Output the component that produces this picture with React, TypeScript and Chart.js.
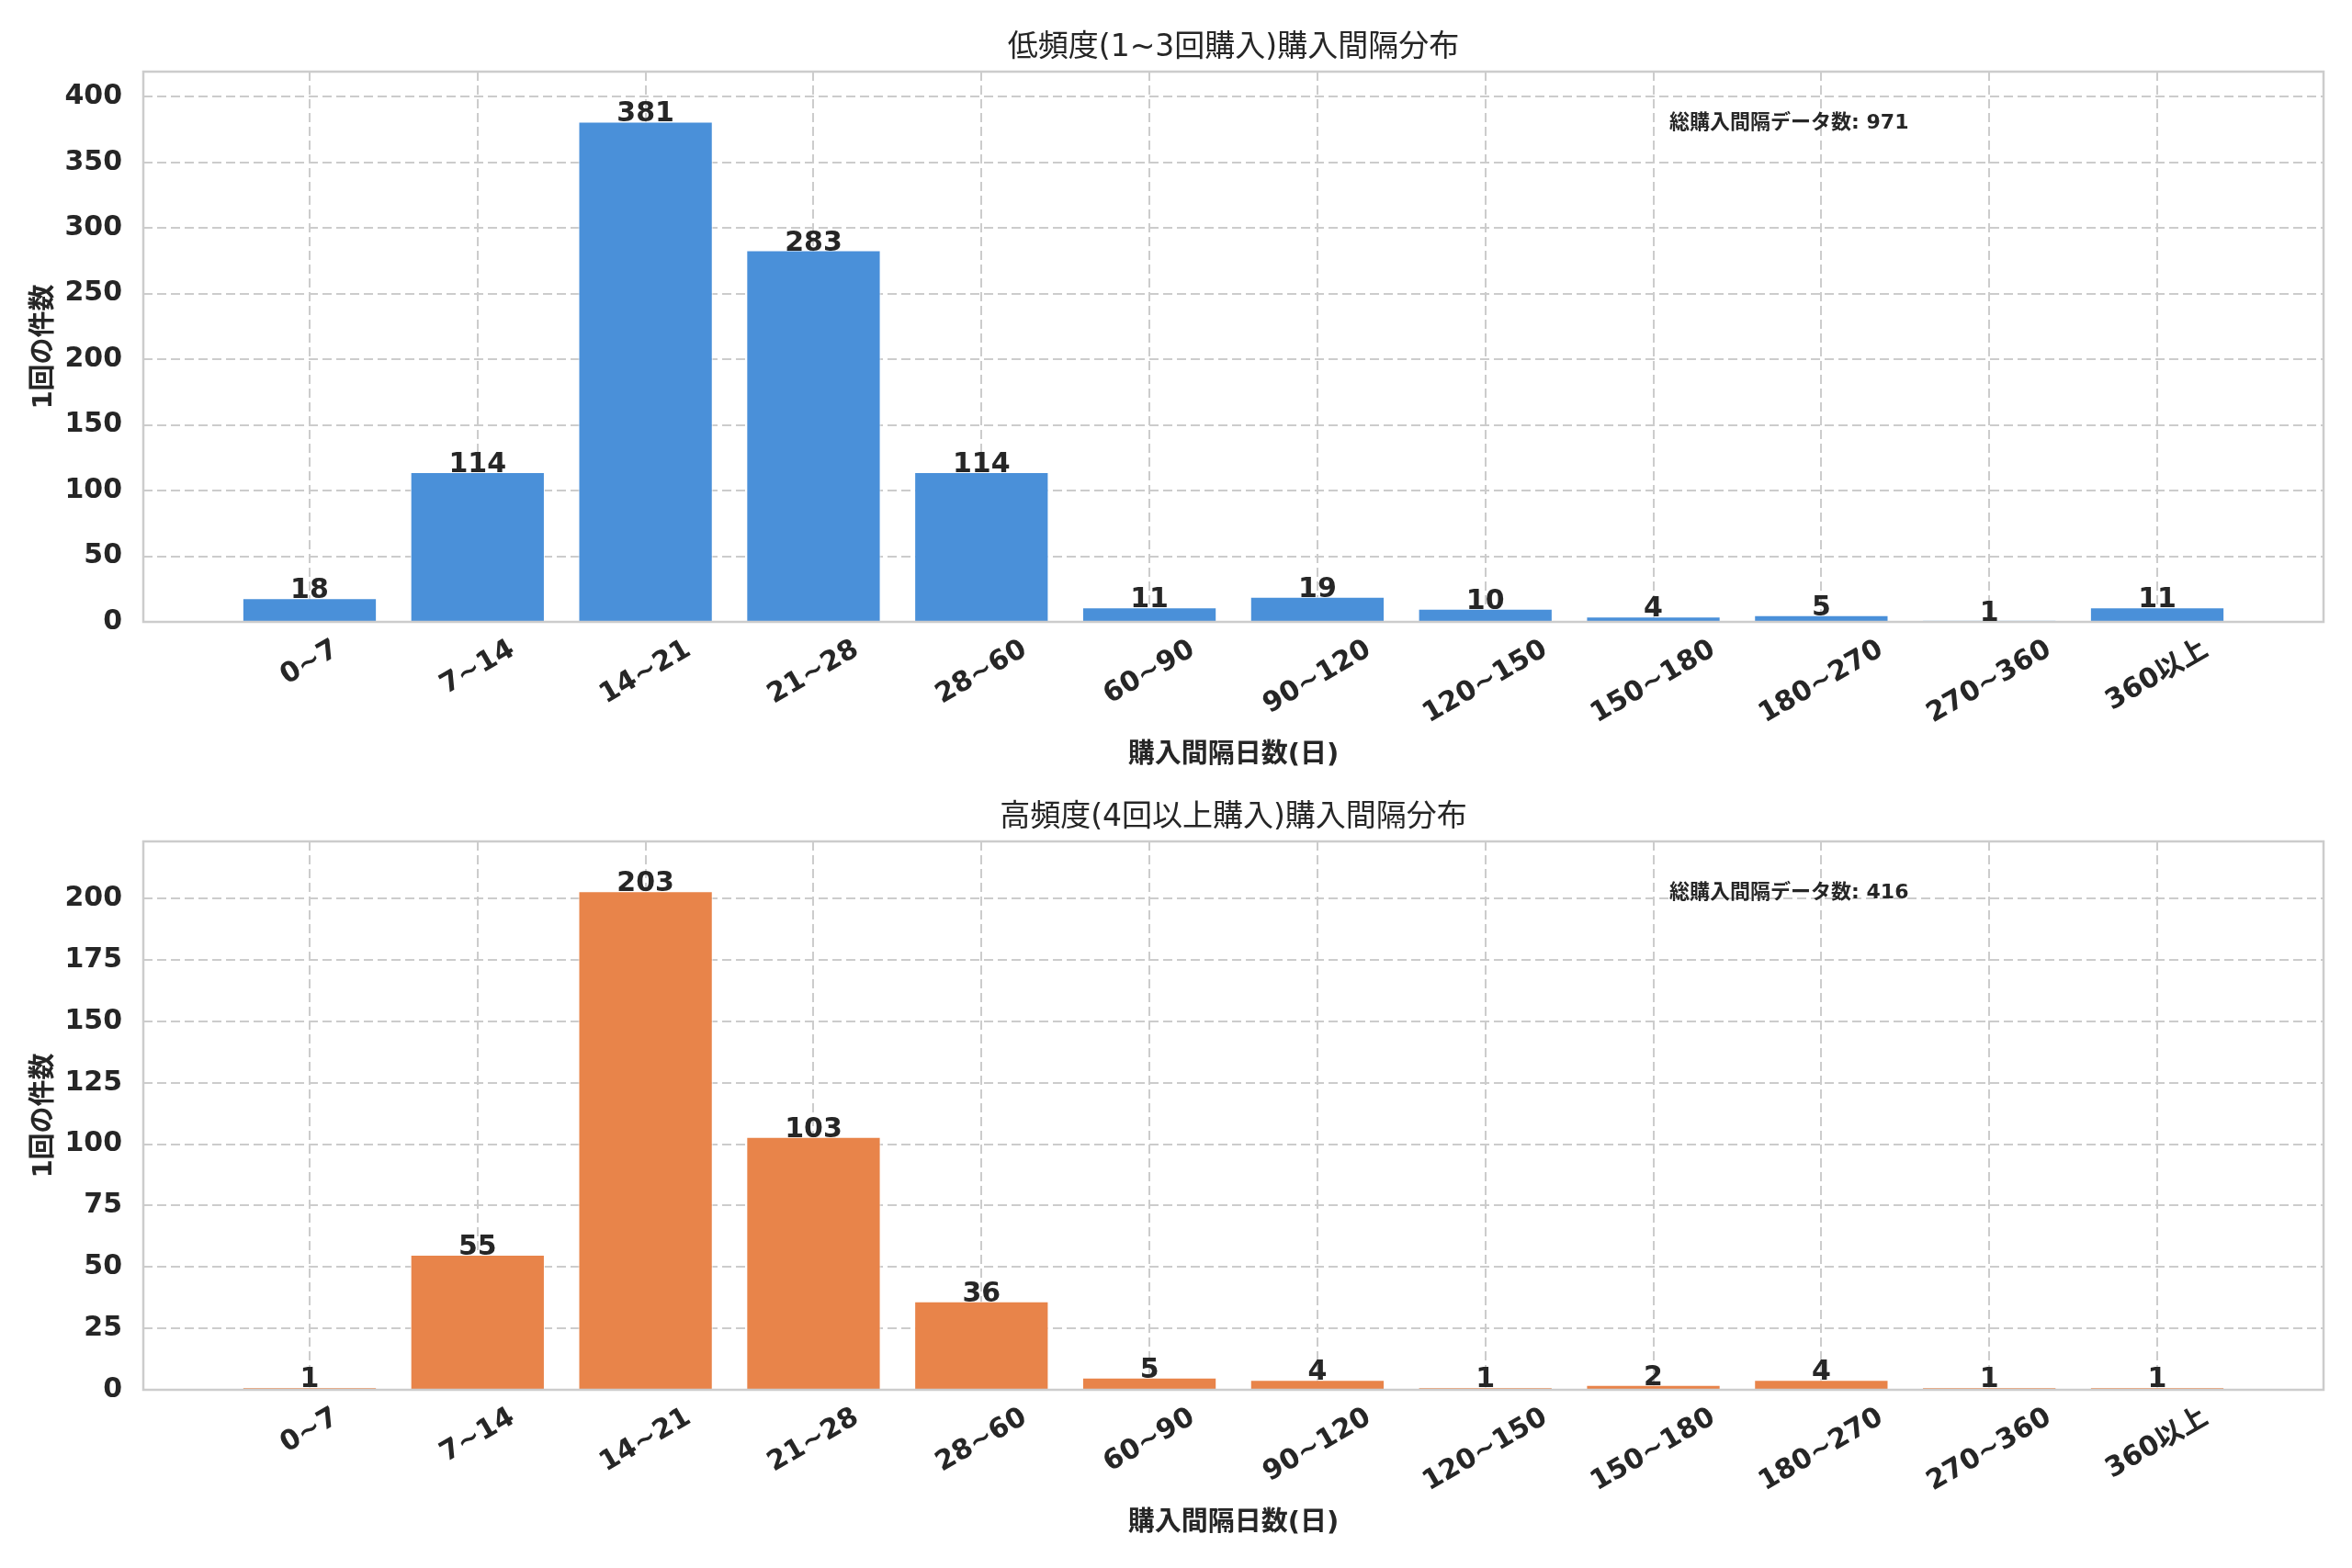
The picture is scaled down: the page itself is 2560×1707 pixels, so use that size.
import React, { useEffect, useRef } from 'react';
import { Chart, registerables } from 'chart.js';

Chart.register(...registerables);

// 購入間隔のビン
const intervalLabels = ['0~7', '7~14', '14~21', '21~28', '28~60', '60~90', '90~120', '120~150', '150~180', '180~270', '270~360', '360以上'];
// 低頻度(1~3回購入)
const lowFreqCounts = [18, 114, 381, 283, 114, 11, 19, 10, 4, 5, 1, 11];
// 高頻度(4回以上購入)
const highFreqCounts = [1, 55, 203, 103, 36, 5, 4, 1, 2, 4, 1, 1];
const lowFreqTicks = [0, 50, 100, 150, 200, 250, 300, 350, 400];
const highFreqTicks = [0, 25, 50, 75, 100, 125, 150, 175, 200];

const FONT = '"DejaVu Sans", "Noto Sans CJK JP", sans-serif';
const TEXT = '#262626';
const GRID = '#cccccc';

type PanelProps = {
  title: string;
  counts: number[];
  yTicks: number[];
  color: string;
  totalLabel: string;
  top: number;
  height: number;
  areaTop: number;
  areaBottom: number;
};

const makeTextPlugin = (p: PanelProps) => ({
  id: 'panelText',
  afterDatasetsDraw(chart: any) {
    const { ctx, chartArea: a } = chart;
    ctx.save();
    ctx.strokeStyle = GRID;
    ctx.lineWidth = 2.5;
    ctx.strokeRect(a.left, a.top, a.right - a.left, a.bottom - a.top);
    const meta = chart.getDatasetMeta(0);
    ctx.font = `bold 30px ${FONT}`;
    ctx.fillStyle = TEXT;
    ctx.textAlign = 'center';
    ctx.textBaseline = 'alphabetic';
    meta.data.forEach((bar: any, i: number) => {
      ctx.fillText(String(p.counts[i]), bar.x, bar.y);
    });
    ctx.restore();
  },
  afterDraw(chart: any) {
    const { ctx, chartArea: a } = chart;
    const cx = (a.left + a.right) / 2;
    const h = a.bottom - a.top;
    ctx.save();
    ctx.fillStyle = TEXT;

    // title
    ctx.font = `33px ${FONT}`;
    ctx.textAlign = 'center';
    ctx.textBaseline = 'alphabetic';
    ctx.fillText(p.title, cx, a.top - 17);

    // total annotation
    ctx.font = `bold 22px ${FONT}`;
    ctx.textAlign = 'left';
    ctx.fillText(p.totalLabel, a.left + 0.7 * (a.right - a.left), a.top + 0.05 * h + 32);

    // x tick labels, rotated 30deg, centred on tick
    const rot = (30 * Math.PI) / 180;
    ctx.font = `bold 30px ${FONT}`;
    ctx.textAlign = 'center';
    ctx.textBaseline = 'middle';
    const lh = 35;
    intervalLabels.forEach((lab, i) => {
      const w = ctx.measureText(lab).width;
      const H = w * Math.sin(rot) + lh * Math.cos(rot);
      const x = chart.scales.x.getPixelForValue(i);
      const y = a.bottom + 13 + H / 2;
      ctx.save();
      ctx.translate(x, y);
      ctx.rotate(-rot);
      ctx.fillText(lab, 0, 0);
      ctx.restore();
    });

    // axis labels
    ctx.font = `bold 29px ${FONT}`;
    ctx.textAlign = 'center';
    ctx.textBaseline = 'middle';
    ctx.fillText('購入間隔日数(日)', cx, a.bottom + 145);
    ctx.save();
    ctx.translate(48, (a.top + a.bottom) / 2);
    ctx.rotate(-Math.PI / 2);
    ctx.fillText('1回の件数', 0, 0);
    ctx.restore();

    ctx.restore();
  },
});

const Panel: React.FC<PanelProps> = (props) => {
  const canvasRef = useRef<HTMLCanvasElement | null>(null);

  useEffect(() => {
    if (!canvasRef.current) return;
    const ymax = Math.max(...props.counts) * 1.1;
    const chart = new Chart(canvasRef.current, {
      type: 'bar',
      data: {
        datasets: [
          {
            data: props.counts.map((v, i) => ({ x: i, y: v })),
            backgroundColor: props.color,
            borderColor: '#ffffff',
            borderWidth: 1,
            barPercentage: 0.8,
            categoryPercentage: 1.0,
          },
        ],
      },
      options: {
        animation: false,
        responsive: true,
        maintainAspectRatio: false,
        devicePixelRatio: 1,
        layout: {
          padding: {
            left: 0,
            right: 31,
            top: props.areaTop,
            bottom: props.height - props.areaBottom,
          },
        },
        plugins: {
          legend: { display: false },
          title: { display: false },
          tooltip: { enabled: false },
        },
        scales: {
          x: {
            type: 'linear',
            min: -0.99,
            max: intervalLabels.length - 1 + 0.99,
            offset: false,
            ticks: { display: false },
            grid: { color: GRID, lineWidth: 2, drawTicks: false, offset: false },
            border: { display: false, dash: [10, 5] },
            afterBuildTicks: (axis: any) => {
              axis.ticks = intervalLabels.map((_, i) => ({ value: i }));
            },
            afterFit: (axis: any) => {
              axis.height = 0;
            },
          },
          y: {
            min: 0,
            max: ymax,
            ticks: {
              color: TEXT,
              font: { family: FONT, size: 30, weight: 'bold' },
              padding: 23,
            },
            grid: { color: GRID, lineWidth: 2, drawTicks: false },
            border: { display: false, dash: [10, 5] },
            afterBuildTicks: (axis: any) => {
              axis.ticks = props.yTicks.map((v) => ({ value: v }));
            },
            afterFit: (axis: any) => {
              axis.width = 156;
            },
          },
        },
      },
      plugins: [makeTextPlugin(props)],
    } as any);
    return () => {
      chart.destroy();
    };
  }, []);

  return (
    <div style={{ position: 'absolute', left: 0, top: props.top, width: 2560, height: props.height }}>
      <canvas ref={canvasRef} />
    </div>
  );
};

export default function App() {
  return (
    <div style={{ position: 'absolute', left: 0, top: 0, width: 2560, height: 1707, background: '#ffffff' }}>
      <Panel
        title="低頻度(1~3回購入)購入間隔分布"
        counts={lowFreqCounts}
        yTicks={lowFreqTicks}
        color="#4a90d9"
        totalLabel="総購入間隔データ数: 971"
        top={0}
        height={853}
        areaTop={78}
        areaBottom={677}
      />
      <Panel
        title="高頻度(4回以上購入)購入間隔分布"
        counts={highFreqCounts}
        yTicks={highFreqTicks}
        color="#e8844a"
        totalLabel="総購入間隔データ数: 416"
        top={853}
        height={854}
        areaTop={63}
        areaBottom={660}
      />
    </div>
  );
}
